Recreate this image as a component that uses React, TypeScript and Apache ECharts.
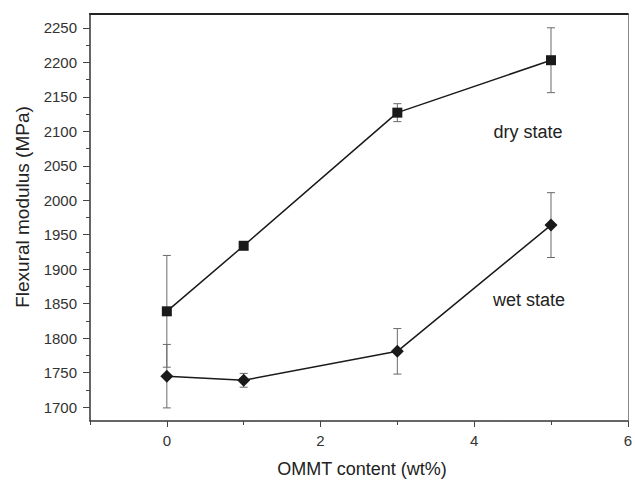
import React, { useEffect, useRef } from "react";
import * as echarts from "echarts";

// OMMT loading (wt%)
const contents = [0, 1, 3, 5];
// Flexural modulus (MPa) and standard deviations
const dryModulus = [1839, 1934, 2127, 2203];
const dryError = [81, 3, 13, 47];
const wetModulus = [1745, 1739, 1781, 1964];
const wetError = [46, 10, 33, 47];

const yMajorTicks = [1700, 1750, 1800, 1850, 1900, 1950, 2000, 2050, 2100, 2150, 2200, 2250];
const yMinorTicks = [1725, 1775, 1825, 1875, 1925, 1975, 2025, 2075, 2125, 2175, 2225];
const xMajorTicks = [0, 2, 4, 6];
const xMinorTicks = [-1, 1, 3, 5];

const FONT = "'Liberation Sans', Arial, sans-serif";
const INK = "#1a1a1a";

function errorSeries(values: number[], errs: number[]) {
  return {
    type: "custom",
    z: 1,
    silent: true,
    data: contents.map((x, i) => [x, values[i] - errs[i], values[i] + errs[i]]),
    renderItem: (_params: any, api: any) => {
      const lo = api.coord([api.value(0), api.value(1)]);
      const hi = api.coord([api.value(0), api.value(2)]);
      const cap = 4;
      const style = { stroke: "#6a6a6a", lineWidth: 1 };
      return {
        type: "group",
        children: [
          { type: "line", shape: { x1: lo[0], y1: lo[1], x2: hi[0], y2: hi[1] }, style },
          { type: "line", shape: { x1: lo[0] - cap, y1: lo[1], x2: lo[0] + cap, y2: lo[1] }, style },
          { type: "line", shape: { x1: hi[0] - cap, y1: hi[1], x2: hi[0] + cap, y2: hi[1] }, style },
        ],
      };
    },
  };
}

const plain = (v: number) => String(v);

export default function App() {
  const ref = useRef<HTMLDivElement>(null);

  useEffect(() => {
    if (!ref.current) return;
    const chart = echarts.init(ref.current, undefined, { renderer: "svg" });
    const xRange = { type: "value", min: -1, max: 6 };
    const yRange = { type: "value", min: 1680, max: 2270 };
    chart.setOption({
      animation: false,
      backgroundColor: "#ffffff",
      grid: { left: 90, right: 2, top: 14, bottom: 59 },
      xAxis: [
        {
          ...xRange,
          position: "bottom",
          axisLine: { show: true, onZero: false, lineStyle: { color: "#333", width: 1.5 } },
          axisTick: { show: true, length: 6, customValues: xMajorTicks, lineStyle: { color: "#444", width: 1 } },
          axisLabel: {
            customValues: xMajorTicks,
            formatter: plain,
            margin: 12,
            fontFamily: FONT,
            fontSize: 15,
            color: "#333",
          },
          splitLine: { show: false },
        },
        {
          ...xRange,
          position: "bottom",
          axisLine: { show: false, onZero: false },
          axisTick: { show: true, length: 4, customValues: xMinorTicks, lineStyle: { color: "#444", width: 1 } },
          axisLabel: { show: false },
          splitLine: { show: false },
        },
        {
          ...xRange,
          position: "top",
          axisLine: { show: true, onZero: false, lineStyle: { color: "#222", width: 2 } },
          axisTick: { show: false },
          axisLabel: { show: false },
          splitLine: { show: false },
        },
      ],
      yAxis: [
        {
          ...yRange,
          position: "left",
          axisLine: { show: true, onZero: false, lineStyle: { color: "#333", width: 1.5 } },
          axisTick: { show: true, length: 7, customValues: yMajorTicks, lineStyle: { color: "#444", width: 1 } },
          axisLabel: {
            customValues: yMajorTicks,
            formatter: plain,
            margin: 13,
            fontFamily: FONT,
            fontSize: 15,
            color: "#333",
          },
          splitLine: { show: false },
        },
        {
          ...yRange,
          position: "left",
          axisLine: { show: false, onZero: false },
          axisTick: { show: true, length: 4, customValues: yMinorTicks, lineStyle: { color: "#444", width: 1 } },
          axisLabel: { show: false },
          splitLine: { show: false },
        },
        {
          ...yRange,
          position: "right",
          axisLine: { show: true, onZero: false, lineStyle: { color: "#8a8a8a", width: 1 } },
          axisTick: { show: false },
          axisLabel: { show: false },
          splitLine: { show: false },
        },
      ],
      graphic: [
        {
          type: "text",
          x: 22,
          y: 207,
          rotation: Math.PI / 2,
          style: {
            text: "Flexural modulus (MPa)",
            fontFamily: FONT,
            fontSize: 19,
            fill: "#222",
            align: "center",
            verticalAlign: "middle",
          },
        },
        {
          type: "text",
          x: 362,
          y: 469,
          style: {
            text: "OMMT content (wt%)",
            fontFamily: FONT,
            fontSize: 18,
            fill: "#222",
            align: "center",
            verticalAlign: "middle",
          },
        },
        {
          type: "text",
          x: 528,
          y: 132,
          style: {
            text: "dry state",
            fontFamily: FONT,
            fontSize: 18,
            fill: "#222",
            align: "center",
            verticalAlign: "middle",
          },
        },
        {
          type: "text",
          x: 529,
          y: 300,
          style: {
            text: "wet state",
            fontFamily: FONT,
            fontSize: 18,
            fill: "#222",
            align: "center",
            verticalAlign: "middle",
          },
        },
      ],
      series: [
        errorSeries(dryModulus, dryError),
        errorSeries(wetModulus, wetError),
        {
          name: "dry state",
          type: "line",
          z: 3,
          data: contents.map((x, i) => [x, dryModulus[i]]),
          symbol: "rect",
          symbolSize: 10,
          showAllSymbol: true,
          lineStyle: { color: INK, width: 1.5 },
          itemStyle: { color: INK },
        },
        {
          name: "wet state",
          type: "line",
          z: 3,
          data: contents.map((x, i) => [x, wetModulus[i]]),
          symbol: "diamond",
          symbolSize: 13,
          showAllSymbol: true,
          lineStyle: { color: INK, width: 1.5 },
          itemStyle: { color: INK },
        },
      ],
    });
    return () => chart.dispose();
  }, []);

  return <div ref={ref} style={{ width: 635, height: 480, position: "absolute", left: 0, top: 0 }} />;
}
